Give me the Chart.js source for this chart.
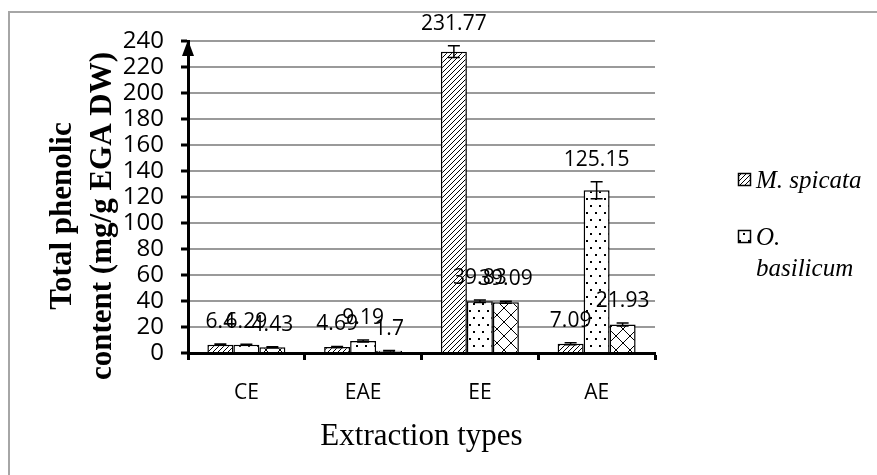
<!DOCTYPE html>
<html>
<head>
<meta charset="utf-8">
<script src="https://cdn.jsdelivr.net/npm/chart.js@4.4.1/dist/chart.umd.min.js"></script>
<style>
  html, body { margin: 0; padding: 0; background: #fff; }
  #wrap { width: 877px; height: 475px; }
</style>
</head>
<body>
<div id="wrap"><canvas id="phenolicChart" width="877" height="475"></canvas></div>
<script>
// values (mg/g EGA DW)
var categories = ['CE', 'EAE', 'EE', 'AE'];
var seriesNames = ['M. spicata', 'O. basilicum', 'Series 3'];
var spicata = [6.4, 4.69, 231.77, 7.09];
var basilicum = [6.29, 9.19, 39.83, 125.15];
var third = [4.43, 1.7, 39.09, 21.93];
var spicataErr = [0.5, 0.4, 4.5, 0.8];
var basilicumErr = [0.4, 0.8, 0.9, 6.5];
var thirdErr = [0.3, 0.2, 0.8, 1.2];
var yTicks = [0, 20, 40, 60, 80, 100, 120, 140, 160, 180, 200, 220, 240];

var SANS = "'Open Sans', 'Liberation Sans', sans-serif";
var SERIF = "'Liberation Serif', 'DejaVu Serif', serif";

// black-and-white fill patterns like the Excel original
function makePattern(kind) {
  var p = document.createElement('canvas');
  var g = p.getContext('2d');
  if (kind === 'hatch') {
    p.width = p.height = 5;
    g.fillStyle = '#fff'; g.fillRect(0, 0, 5, 5);
    g.strokeStyle = '#000'; g.lineWidth = 1;
    g.beginPath();
    g.moveTo(-1, 6); g.lineTo(6, -1);
    g.moveTo(-1, 1); g.lineTo(1, -1);
    g.moveTo(4, 6); g.lineTo(6, 4);
    g.stroke();
  } else if (kind === 'dots') {
    p.width = 9; p.height = 14;
    g.fillStyle = '#fff'; g.fillRect(0, 0, 9, 14);
    g.fillStyle = '#000';
    g.fillRect(1, 2, 2, 2);
    g.fillRect(5, 9, 2, 2);
  } else {
    p.width = p.height = 14;
    g.fillStyle = '#fff'; g.fillRect(0, 0, 14, 14);
    g.strokeStyle = '#000'; g.lineWidth = 1;
    g.beginPath();
    g.moveTo(0, 0); g.lineTo(14, 14);
    g.moveTo(14, 0); g.lineTo(0, 14);
    g.stroke();
  }
  return g.createPattern(p, 'repeat');
}

var errors = [spicataErr, basilicumErr, thirdErr];

var decor = {
  id: 'decor',
  beforeDraw: function (chart) {
    var ctx = chart.ctx;
    ctx.save();
    ctx.fillStyle = '#fff';
    ctx.fillRect(0, 0, chart.width, chart.height);
    ctx.strokeStyle = '#a6a6a6';
    ctx.lineWidth = 2;
    ctx.strokeRect(9, 12, chart.width + 20, chart.height + 20);
    ctx.restore();
  },
  afterDatasetsDraw: function (chart) {
    var ctx = chart.ctx;
    var y = chart.scales.y;
    ctx.save();
    chart.data.datasets.forEach(function (ds, i) {
      var meta = chart.getDatasetMeta(i);
      meta.data.forEach(function (bar, j) {
        var v = ds.data[j], e = errors[i][j];
        var top = y.getPixelForValue(v + e), bot = y.getPixelForValue(v - e);
        ctx.strokeStyle = '#000';
        ctx.lineWidth = 1.5;
        ctx.beginPath();
        ctx.moveTo(bar.x, top); ctx.lineTo(bar.x, bot);
        ctx.moveTo(bar.x - 6, top); ctx.lineTo(bar.x + 6, top);
        ctx.moveTo(bar.x - 6, bot); ctx.lineTo(bar.x + 6, bot);
        ctx.stroke();
      });
    });
    // value labels sit above the error bar
    ctx.fillStyle = '#000';
    ctx.font = '21px ' + SANS;
    ctx.textAlign = 'center';
    ctx.textBaseline = 'middle';
    chart.data.datasets.forEach(function (ds, i) {
      chart.getDatasetMeta(i).data.forEach(function (bar, j) {
        var top = y.getPixelForValue(ds.data[j] + errors[i][j]);
        ctx.fillText(String(ds.data[j]), bar.x, top - 22);
      });
    });
    ctx.restore();
  },
  afterDraw: function (chart) {
    var ctx = chart.ctx;
    var area = chart.chartArea;
    ctx.save();
    // arrow head on the value axis
    ctx.fillStyle = '#000';
    ctx.beginPath();
    ctx.moveTo(area.left, area.top - 1);
    ctx.lineTo(area.left - 6, area.top + 15);
    ctx.lineTo(area.left + 6, area.top + 15);
    ctx.closePath();
    ctx.fill();

    // axis titles
    ctx.font = '31px ' + SERIF;
    ctx.textAlign = 'center';
    ctx.textBaseline = 'alphabetic';
    ctx.fillText('Extraction types', (area.left + area.right) / 2, 445);

    ctx.font = 'bold 31px ' + SERIF;
    ctx.save();
    ctx.translate(71, 216);
    ctx.rotate(-Math.PI / 2);
    ctx.fillText('Total phenolic', 0, 0);
    ctx.restore();
    ctx.save();
    ctx.translate(111, 216);
    ctx.rotate(-Math.PI / 2);
    ctx.fillText('content (mg/g EGA DW)', 0, 0);
    ctx.restore();

    // legend (third entry falls outside the figure)
    var rows = [
      { ds: 0, box: 173, lines: ['M. spicata'], base: 188 },
      { ds: 1, box: 230, lines: ['O.', 'basilicum'], base: 245 }
    ];
    ctx.font = 'italic 25px ' + SERIF;
    ctx.textAlign = 'left';
    rows.forEach(function (r) {
      var ds = chart.data.datasets[r.ds];
      ctx.fillStyle = ds.backgroundColor;
      ctx.fillRect(738, r.box, 13, 13);
      ctx.strokeStyle = '#000';
      ctx.lineWidth = 1.5;
      ctx.strokeRect(738.5, r.box + 0.5, 12, 12);
      ctx.fillStyle = '#000';
      r.lines.forEach(function (t, k) {
        ctx.fillText(t, 756, r.base + k * 31);
      });
    });
    ctx.restore();
  }
};

var ctx = document.getElementById('phenolicChart').getContext('2d');
var fills = [makePattern('hatch'), makePattern('dots'), makePattern('cross')];
var values = [spicata, basilicum, third];

new Chart(ctx, {
  type: 'bar',
  data: {
    labels: categories,
    datasets: values.map(function (vals, i) {
      return {
        label: seriesNames[i],
        data: vals,
        backgroundColor: fills[i],
        borderColor: '#000',
        borderWidth: 1.5,
        categoryPercentage: 0.668,
        barPercentage: 1.0
      };
    })
  },
  options: {
    responsive: false,
    animation: false,
    devicePixelRatio: 1,
    layout: { padding: { left: 0, right: 222, top: 41, bottom: 0 } },
    plugins: { legend: { display: false }, tooltip: { enabled: false } },
    scales: {
      x: {
        offset: true,
        grid: { offset: true, drawOnChartArea: false, drawTicks: true, tickLength: 7, tickWidth: 3, tickColor: '#000' },
        border: { display: true, color: '#000', width: 3 },
        ticks: { color: '#000', font: { family: SANS, size: 21 }, padding: 20 },
        afterFit: function (s) { s.height = 122; }
      },
      y: {
        min: 0,
        max: 240,
        afterBuildTicks: function (s) { s.ticks = yTicks.map(function (v) { return { value: v }; }); },
        grid: { color: '#9a9a9a', lineWidth: 2, tickLength: 7, tickWidth: 3, tickColor: '#000' },
        border: { display: true, color: '#000', width: 3 },
        ticks: { color: '#000', font: { family: SANS, size: 24 }, padding: 17, autoSkip: false },
        afterFit: function (s) { s.width = 188; }
      }
    }
  },
  plugins: [decor]
});
</script>
</body>
</html>
